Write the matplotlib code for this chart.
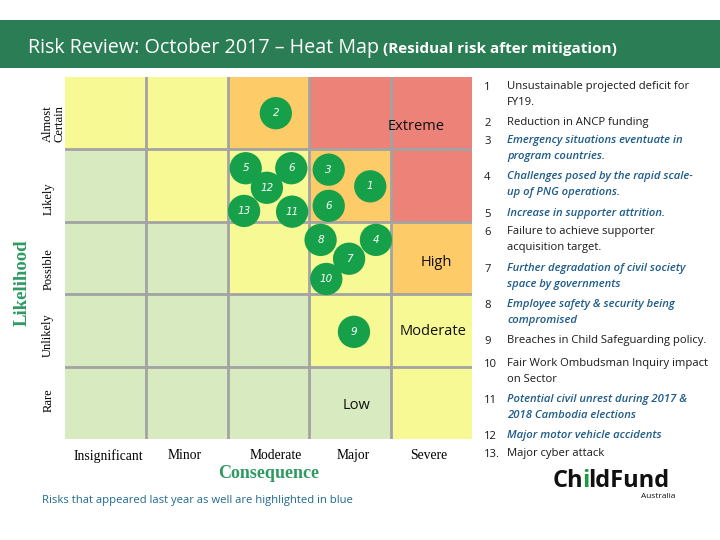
import matplotlib
matplotlib.use("Agg")
import matplotlib.pyplot as plt
import numpy as np

W, H = 720, 540

consequences = ["Insignificant", "Minor", "Moderate", "Major", "Severe"]
likelihoods = ["Rare", "Unlikely", "Possible", "Likely", "Almost\nCertain"]  # bottom to top

# cell levels: rows bottom(Rare) -> top(Almost Certain); 0 low,1 moderate,2 high,3 extreme
levels = [
    [0, 0, 0, 0, 1],
    [0, 0, 0, 1, 1],
    [0, 0, 1, 1, 2],
    [0, 1, 1, 2, 3],
    [1, 1, 2, 3, 3],
]
level_colors = ["#D8EAC0", "#F7F995", "#FDCB68", "#EC8278"]
level_names = ["Low", "Moderate", "High", "Extreme"]
level_label_pos = [(3.58, 0.46), (4.52, 1.49), (4.56, 2.44), (4.31, 4.32)]

risk_ids = ["2", "5", "6", "12", "13", "11", "3", "1", "6", "8", "4", "7", "10", "9"]
risk_x = [2.59, 2.22, 2.78, 2.48, 2.20, 2.79, 3.24, 3.75, 3.24, 3.14, 3.82, 3.49, 3.21, 3.55]
risk_y = [4.50, 3.74, 3.74, 3.47, 3.15, 3.14, 3.72, 3.49, 3.22, 2.75, 2.75, 2.49, 2.21, 1.48]

list_nums = ["1", "2", "3", "4", "5", "6", "7", "8", "9", "10", "11", "12", "13."]
list_texts = [
    "Unsustainable projected deficit for\nFY19.",
    "Reduction in ANCP funding",
    "Emergency situations eventuate in\nprogram countries.",
    "Challenges posed by the rapid scale-\nup of PNG operations.",
    "Increase in supporter attrition.",
    "Failure to achieve supporter\nacquisition target.",
    "Further degradation of civil society\nspace by governments",
    "Employee safety & security being\ncompromised",
    "Breaches in Child Safeguarding policy.",
    "Fair Work Ombudsman Inquiry impact\non Sector",
    "Potential civil unrest during 2017 &\n2018 Cambodia elections",
    "Major motor vehicle accidents",
    "Major cyber attack",
]
list_repeat = [False, False, True, True, True, False, True, True, False, False, True, True, False]
list_y = [86, 122, 140, 176, 213, 231, 268, 304, 340, 363, 399, 435, 453]

# label placement (layout)
xtick_pos = [0.53, 1.47, 2.59, 3.54, 4.47]
ytick_pos = [0.54, 1.44, 2.35, 3.32, 4.36]

fig = plt.figure(figsize=(W / 100, H / 100), dpi=100)
fig.patch.set_facecolor("white")

def fx(px):
    return px / W

def fy(py):
    return 1 - py / H

# title bar
bar = fig.add_axes([0, fy(68), 1, (68 - 20) / H])
bar.set_axis_off()
bar.add_patch(plt.Rectangle((0, 0), 1, 1, color="#2B7D55", transform=bar.transAxes))
fig.text(fx(28), fy(48), "Risk Review: October 2017 – Heat Map", color="white",
         fontsize=14.2, family="Open Sans", va="center", ha="left")
fig.text(fx(383), fy(49), "(Residual risk after mitigation)", color="white",
         fontsize=11, family="Open Sans", weight="bold", va="center", ha="left")

# heat map
ax = fig.add_axes([fx(65), fy(439), fx(472) - fx(65), (439 - 77) / H])
for r in range(5):
    for c in range(5):
        ax.add_patch(plt.Rectangle((c, r), 1, 1, facecolor=level_colors[levels[r][c]],
                                   edgecolor="none", zorder=0))
for k in range(1, 5):
    ax.axvline(k, color="#A3A3A3", lw=2, zorder=1)
    ax.axhline(k, color="#A3A3A3", lw=2, zorder=1)
ax.set_xlim(0, 5)
ax.set_ylim(0, 5)
for s in ax.spines.values():
    s.set_visible(False)
ax.set_xticks(xtick_pos)
ax.set_xticklabels(consequences, family="Liberation Serif", fontsize=9.8)
ax.set_yticks([])
ax.tick_params(length=0, pad=7)
ytr = ax.get_yaxis_transform()
for lab, yp in zip(likelihoods, ytick_pos):
    ax.text(-0.056, yp, lab, transform=ytr, rotation=90, ha="left", va="center",
            family="Liberation Serif", fontsize=9, linespacing=0.9, multialignment="center")

ax.set_xlabel("Consequence", family="Liberation Serif", fontsize=13, weight="bold",
              color="#2E9A62")
ax.xaxis.set_label_coords(0.5, -(473 - 439) / (439 - 77))
ax.xaxis.label.set_va("center")
fig.text(fx(22), fy(283), "Likelihood", family="Liberation Serif", fontsize=13.5,
         weight="bold", color="#2E9A62", rotation=90, ha="center", va="center")

for name, (lx, ly) in zip(level_names, level_label_pos):
    ax.text(lx, ly, name, family="Open Sans", fontsize=10.5, ha="center", va="center",
            color="#111111", zorder=3)

ax.scatter(risk_x, risk_y, s=540, color="#16A04A", zorder=4, edgecolors="none")
for rid, x, y in zip(risk_ids, risk_x, risk_y):
    ax.text(x, y, rid, color="white", fontsize=7.5, style="italic", ha="center",
            va="center", zorder=5, family="DejaVu Sans", weight="light")

fig.text(fx(42), fy(500), "Risks that appeared last year as well are highlighted in blue",
         color="#1F6A8E", fontsize=8.1, family="Open Sans", va="center", ha="left")

# risk list
for num, txt, rep, y in zip(list_nums, list_texts, list_repeat, list_y):
    col = "#1F5C88" if rep else "#1A1A1A"
    fig.text(fx(484), fy(y + 1.5), num, color="#1A1A1A", fontsize=8.15, family="Open Sans",
             va="center", ha="left")
    fig.text(fx(507), fy(y) + 0.0098, txt, color=col, fontsize=8.15, family="Open Sans",
             style="italic" if rep else "normal", weight="semibold" if rep else "normal",
             va="top", ha="left", linespacing=1.6)

# logo
renderer = fig.canvas.get_renderer()
x0 = 553
parts = [("Ch", "#111111"), ("i", "#1E9A44"), ("ldFund", "#111111")]
for txt, col in parts:
    t = fig.text(fx(x0), fy(481), txt, fontsize=17, family="Open Sans", weight="bold",
                 color=col, va="center", ha="left")
    bb = t.get_window_extent(renderer)
    x0 = x0 + bb.width - 1.5
fig.text(fx(641), fy(497), "Australia", fontsize=6, family="Open Sans",
         color="#111111", va="center", ha="left")

fig.savefig("out.png", dpi=100, facecolor="white")
